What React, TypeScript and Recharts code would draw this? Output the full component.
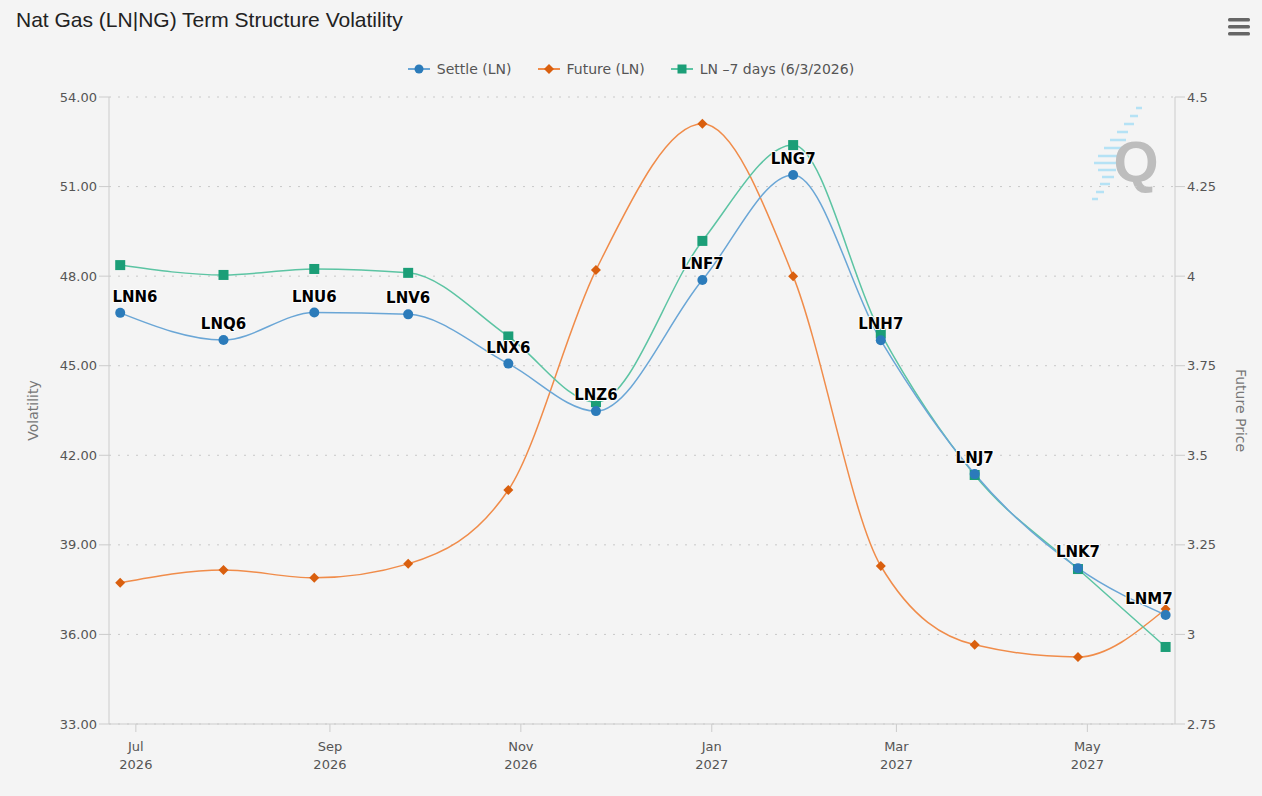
import React from "react";
import { LineChart, Line, XAxis, YAxis, CartesianGrid, Legend, LabelList } from "recharts";

const contracts = ["LNN6", "LNQ6", "LNU6", "LNV6", "LNX6", "LNZ6", "LNF7", "LNG7", "LNH7", "LNJ7", "LNK7", "LNM7"];
const expiries = [
  "2026-06-26", "2026-07-29", "2026-08-27", "2026-09-26", "2026-10-28", "2026-11-25",
  "2026-12-29", "2027-01-27", "2027-02-24", "2027-03-26", "2027-04-28", "2027-05-26",
];
const settle = [46.77, 45.86, 46.78, 46.72, 45.07, 43.48, 47.87, 51.39, 45.85, 41.37, 38.22, 36.65];
const future = [3.144, 3.18, 3.158, 3.197, 3.403, 4.017, 4.425, 4.0, 3.191, 2.971, 2.937, 3.071];
const weekAgo = [48.37, 48.04, 48.24, 48.11, 45.98, 43.78, 49.18, 52.39, 46.08, 41.34, 38.19, 35.58];

const volTicks = [33, 36, 39, 42, 45, 48, 51, 54];
const priceTicks = [2.75, 3, 3.25, 3.5, 3.75, 4, 4.25, 4.5];
const monthTicks = ["2026-07-01", "2026-09-01", "2026-11-01", "2027-01-01", "2027-03-01", "2027-05-01"];
const monthNames = ["Jan", "Feb", "Mar", "Apr", "May", "Jun", "Jul", "Aug", "Sep", "Oct", "Nov", "Dec"];

const ts = (s: string) => Date.parse(s + "T00:00:00Z");

const data = contracts.map((c, i) => ({
  contract: c,
  date: ts(expiries[i]),
  settle: settle[i],
  future: future[i],
  weekAgo: weekAgo[i],
}));

const BLUE = "#2b7bba";
const BLUE_LINE = "#6aa6d6";
const ORANGE = "#d95f0e";
const ORANGE_LINE = "#f08c4a";
const GREEN = "#1b9e77";
const GREEN_LINE = "#5cc4a3";
const FONT = "'DejaVu Sans', Verdana, sans-serif";

const PLOT_LEFT = 109;
const PLOT_RIGHT = 1175;

// watermark streaks behind the "Q" logo: [x1, x2, y]
const streaks = [
  [1136, 1142, 108], [1130, 1138, 116], [1124, 1134, 124], [1117, 1128, 132],
  [1110, 1126, 140], [1104, 1124, 148], [1098, 1120, 156], [1094, 1118, 163],
  [1098, 1116, 170], [1102, 1114, 177], [1100, 1110, 184], [1096, 1104, 192], [1092, 1098, 199],
];

const Diamond = (p: any) => {
  const { cx, cy } = p;
  if (cx == null || cy == null) return <g />;
  return <path d={`M${cx},${cy - 5}L${cx + 5},${cy}L${cx},${cy + 5}L${cx - 5},${cy}Z`} fill={ORANGE} />;
};

const Square = (p: any) => {
  const { cx, cy } = p;
  if (cx == null || cy == null) return <g />;
  return <rect x={cx - 5} y={cy - 5} width={10} height={10} fill={GREEN} />;
};

const ContractLabel = (p: any) => {
  const { x, y, value } = p;
  const half = 24;
  const lx = Math.min(Math.max(x, PLOT_LEFT + half + 2), PLOT_RIGHT - half - 2);
  return (
    <text
      x={lx}
      y={y - 11}
      textAnchor="middle"
      fontFamily={FONT}
      fontSize={15}
      fontWeight="bold"
      fill="#000"
      stroke="#fff"
      strokeWidth={2}
      strokeLinejoin="round"
      paintOrder="stroke"
    >
      {value}
    </text>
  );
};

const MonthTick = (p: any) => {
  const { x, y, payload } = p;
  const d = new Date(payload.value);
  return (
    <g>
      <text x={x} y={y + 17} textAnchor="middle" fontFamily={FONT} fontSize={13} fill="#555">
        {monthNames[d.getUTCMonth()]}
      </text>
      <text x={x} y={y + 35} textAnchor="middle" fontFamily={FONT} fontSize={13} fill="#555">
        {d.getUTCFullYear()}
      </text>
    </g>
  );
};

const legendItems = [
  { name: "Settle (LN)", color: BLUE, line: BLUE_LINE, shape: "circle" },
  { name: "Future (LN)", color: ORANGE, line: ORANGE_LINE, shape: "diamond" },
  { name: "LN \u20137 days (6/3/2026)", color: GREEN, line: GREEN_LINE, shape: "square" },
];

const LegendContent = () => (
  <div style={{ display: "flex", justifyContent: "center", gap: 26, fontFamily: FONT, fontSize: 14, color: "#555" }}>
    {legendItems.map((it) => (
      <div key={it.name} style={{ display: "flex", alignItems: "center" }}>
        <svg width={22} height={12} style={{ marginRight: 7 }}>
          <line x1={0} y1={6} x2={22} y2={6} stroke={it.line} strokeWidth={2} />
          {it.shape === "circle" && <circle cx={11} cy={6} r={4.5} fill={it.color} />}
          {it.shape === "diamond" && <path d="M11,1L16,6L11,11L6,6Z" fill={it.color} />}
          {it.shape === "square" && <rect x={6.5} y={1.5} width={9} height={9} fill={it.color} />}
        </svg>
        <span>{it.name}</span>
      </div>
    ))}
  </div>
);

export default function App() {
  return (
    <div style={{ position: "fixed", left: 0, top: 0, width: 1262, height: 796, background: "#f4f4f4" }}>
      <div
        style={{
          position: "absolute",
          left: 16,
          top: 8,
          fontFamily: "'Liberation Sans', Arial, sans-serif",
          fontSize: 21,
          color: "#222",
        }}
      >
        Nat Gas (LN|NG) Term Structure Volatility
      </div>
      <svg style={{ position: "absolute", left: 1226, top: 16 }} width={26} height={20}>
        {[2, 9, 16].map((y) => (
          <rect key={y} x={2} y={y} width={22} height={3.5} rx={1.5} fill="#666" />
        ))}
      </svg>
      <svg style={{ position: "absolute", left: 0, top: 0 }} width={1262} height={796}>
        {streaks.map(([x1, x2, y]) => (
          <line key={y} x1={x1} y1={y} x2={x2} y2={y} stroke="#b5e2f5" strokeWidth={2.5} />
        ))}
        <text x={1136} y={182} textAnchor="middle" fontFamily="'Liberation Sans', Arial" fontWeight="bold" fontSize={58} fill="#bdbdbd">
          Q
        </text>
      </svg>
      <LineChart width={1262} height={796} data={data} margin={{ top: 97, right: 0, bottom: 22, left: 0 }}>
        <CartesianGrid vertical={false} stroke="#c8c8c8" strokeDasharray="2 7" yAxisId="vol" />
        <XAxis
          dataKey="date"
          type="number"
          scale="time"
          domain={[Date.UTC(2026, 5, 22, 10), Date.UTC(2027, 4, 29)]}
          ticks={monthTicks.map(ts)}
          tick={<MonthTick />}
          tickLine={{ stroke: "#ccc" }}
          tickSize={8}
          axisLine={{ stroke: "#ccc" }}
          height={50}
          allowDataOverflow
        />
        <YAxis
          yAxisId="vol"
          orientation="left"
          width={109}
          domain={[33, 54]}
          ticks={volTicks}
          tickFormatter={(v: number) => v.toFixed(2)}
          tick={{ fill: "#555", fontSize: 13, fontFamily: FONT }}
          tickLine={{ stroke: "#ccc" }}
          tickSize={10}
          axisLine={{ stroke: "#ccc" }}
          label={{
            content: (p: any) => {
              const vb = p.viewBox;
              const cy = vb.y + vb.height / 2;
              return (
                <text transform={`translate(38,${cy}) rotate(-90)`} textAnchor="middle" fontFamily={FONT} fontSize={14} fill="#777">
                  Volatility
                </text>
              );
            },
          }}
        />
        <YAxis
          yAxisId="price"
          orientation="right"
          width={87}
          domain={[2.75, 4.5]}
          ticks={priceTicks}
          tickFormatter={(v: number) => String(v)}
          tick={{ fill: "#555", fontSize: 13, fontFamily: FONT }}
          tickLine={{ stroke: "#ccc" }}
          tickSize={10}
          axisLine={{ stroke: "#ccc" }}
          label={{
            content: (p: any) => {
              const vb = p.viewBox;
              const cy = vb.y + vb.height / 2;
              return (
                <text transform={`translate(1236,${cy}) rotate(90)`} textAnchor="middle" fontFamily={FONT} fontSize={14} fill="#777">
                  Future Price
                </text>
              );
            },
          }}
        />
        <Legend
          layout="horizontal"
          verticalAlign="middle"
          align="center"
          wrapperStyle={{ top: 61, left: 0, width: 1262 }}
          content={<LegendContent />}
        />
        <Line
          yAxisId="price"
          type="monotone"
          dataKey="future"
          name="Future (LN)"
          stroke={ORANGE_LINE}
          strokeWidth={1.5}
          dot={<Diamond />}
          activeDot={false}
          isAnimationActive={false}
        />
        <Line
          yAxisId="vol"
          type="monotone"
          dataKey="weekAgo"
          name="LN -7 days (6/3/2026)"
          stroke={GREEN_LINE}
          strokeWidth={1.5}
          dot={<Square />}
          activeDot={false}
          isAnimationActive={false}
        />
        <Line
          yAxisId="vol"
          type="monotone"
          dataKey="settle"
          name="Settle (LN)"
          stroke={BLUE_LINE}
          strokeWidth={1.5}
          dot={{ r: 5, fill: BLUE, stroke: "none" }}
          activeDot={false}
          isAnimationActive={false}
        >
          <LabelList dataKey="contract" content={<ContractLabel />} />
        </Line>
      </LineChart>
    </div>
  );
}
